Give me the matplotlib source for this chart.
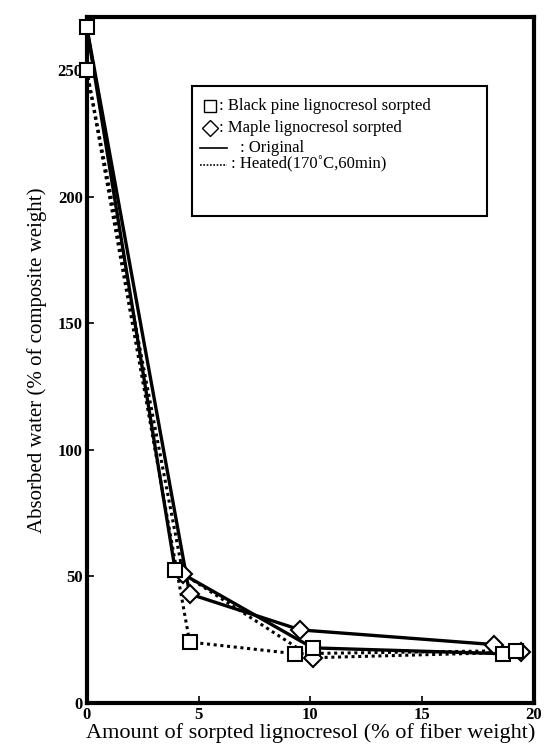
import numpy as np
import matplotlib
matplotlib.use("Agg")
import matplotlib.pyplot as plt
from matplotlib.patches import Rectangle
from matplotlib.lines import Line2D

plt.rcParams["font.family"] = ["Liberation Serif", "DejaVu Serif"]

# untreated control (x = 0), original / heated
ctrl_x = [0]
ctrl_orig_y = [267]
ctrl_heat_y = [250]
# black pine lignocresol, original / heated
pine_orig_x = [3.95, 10.1, 18.6]
pine_orig_y = [52.6, 21.7, 19.4]
pine_heat_x = [4.6, 9.3, 19.2]
pine_heat_y = [24, 19.4, 20.6]
# maple lignocresol, original / heated
maple_orig_x = [4.6, 9.55, 18.2]
maple_orig_y = [43, 28.8, 23]
maple_heat_x = [4.3, 10.1, 19.4]
maple_heat_y = [51, 17.8, 20]

xticks = [0, 5, 10, 15, 20]
yticks = [0, 50, 100, 150, 200, 250]

fig = plt.figure(figsize=(5.46, 7.5), dpi=100)
ax = fig.add_axes([0.159, 0.063, 0.819, 0.914])

solid = dict(color="black", lw=2.4, ls="-", zorder=2)
dotted = dict(color="black", lw=2.2, ls=(0, (1, 1.2)), zorder=2)
sq = dict(marker="s", ms=10, mfc="white", mec="black", mew=1.5)
dia = dict(marker="D", ms=9, mfc="white", mec="black", mew=1.5)

ax.plot(ctrl_x + pine_orig_x, ctrl_orig_y + pine_orig_y, **solid)
ax.plot(ctrl_x + maple_orig_x, ctrl_orig_y + maple_orig_y, **solid)
ax.plot(ctrl_x + pine_heat_x, ctrl_heat_y + pine_heat_y, **dotted)
ax.plot(ctrl_x + maple_heat_x, ctrl_heat_y + maple_heat_y, **dotted)
for x, y in [(maple_orig_x, maple_orig_y), (maple_heat_x, maple_heat_y)]:
    ax.plot(x, y, ls="none", zorder=3, clip_on=False, **dia)
for x, y in [(pine_orig_x, pine_orig_y), (pine_heat_x, pine_heat_y),
             (ctrl_x * 2, ctrl_orig_y + ctrl_heat_y)]:
    ax.plot(x, y, ls="none", zorder=4, clip_on=False, **sq)

ax.set_xlim(0, 20)
ax.set_ylim(0, 271)
ax.set_xticks(xticks)
ax.set_yticks(yticks)
for s in ax.spines.values():
    s.set_linewidth(3)
ax.tick_params(direction="in", length=5, width=1.2, labelsize=12, pad=3)
for lab in ax.get_xticklabels() + ax.get_yticklabels():
    lab.set_fontweight("bold")

ax.set_xlabel("Amount of sorpted lignocresol (% of fiber weight)", fontsize=16,
              labelpad=0)
ax.set_ylabel("Absorbed water (% of composite weight)", fontsize=15, labelpad=8)

# hand-drawn legend box
ax.add_patch(Rectangle((0.236, 0.71), 0.66, 0.19, transform=ax.transAxes,
                       fill=False, lw=1.5, ec="black", zorder=5))
fs = 12
ax.plot([0.275], [0.871], transform=ax.transAxes, ls="none", marker="s", ms=9,
        mfc="white", mec="black", mew=1.0)
ax.text(0.295, 0.871, ": Black pine lignocresol sorpted", transform=ax.transAxes,
        fontsize=fs, va="center")
ax.plot([0.275], [0.838], transform=ax.transAxes, ls="none", marker="D", ms=8,
        mfc="white", mec="black", mew=1.0)
ax.text(0.295, 0.838, ": Maple lignocresol sorpted", transform=ax.transAxes,
        fontsize=fs, va="center")
ax.add_line(Line2D([0.252, 0.313], [0.809, 0.809], transform=ax.transAxes,
                   color="black", lw=1.2))
ax.text(0.342, 0.809, ": Original", transform=ax.transAxes, fontsize=fs,
        va="center")
ax.add_line(Line2D([0.252, 0.313], [0.785, 0.785], transform=ax.transAxes,
                   color="black", lw=1.2, ls=(0, (1, 1))))
ax.text(0.322, 0.785, ": Heated(170˚C,60min)", transform=ax.transAxes,
        fontsize=fs, va="center")

fig.savefig("out.png", dpi=100)
